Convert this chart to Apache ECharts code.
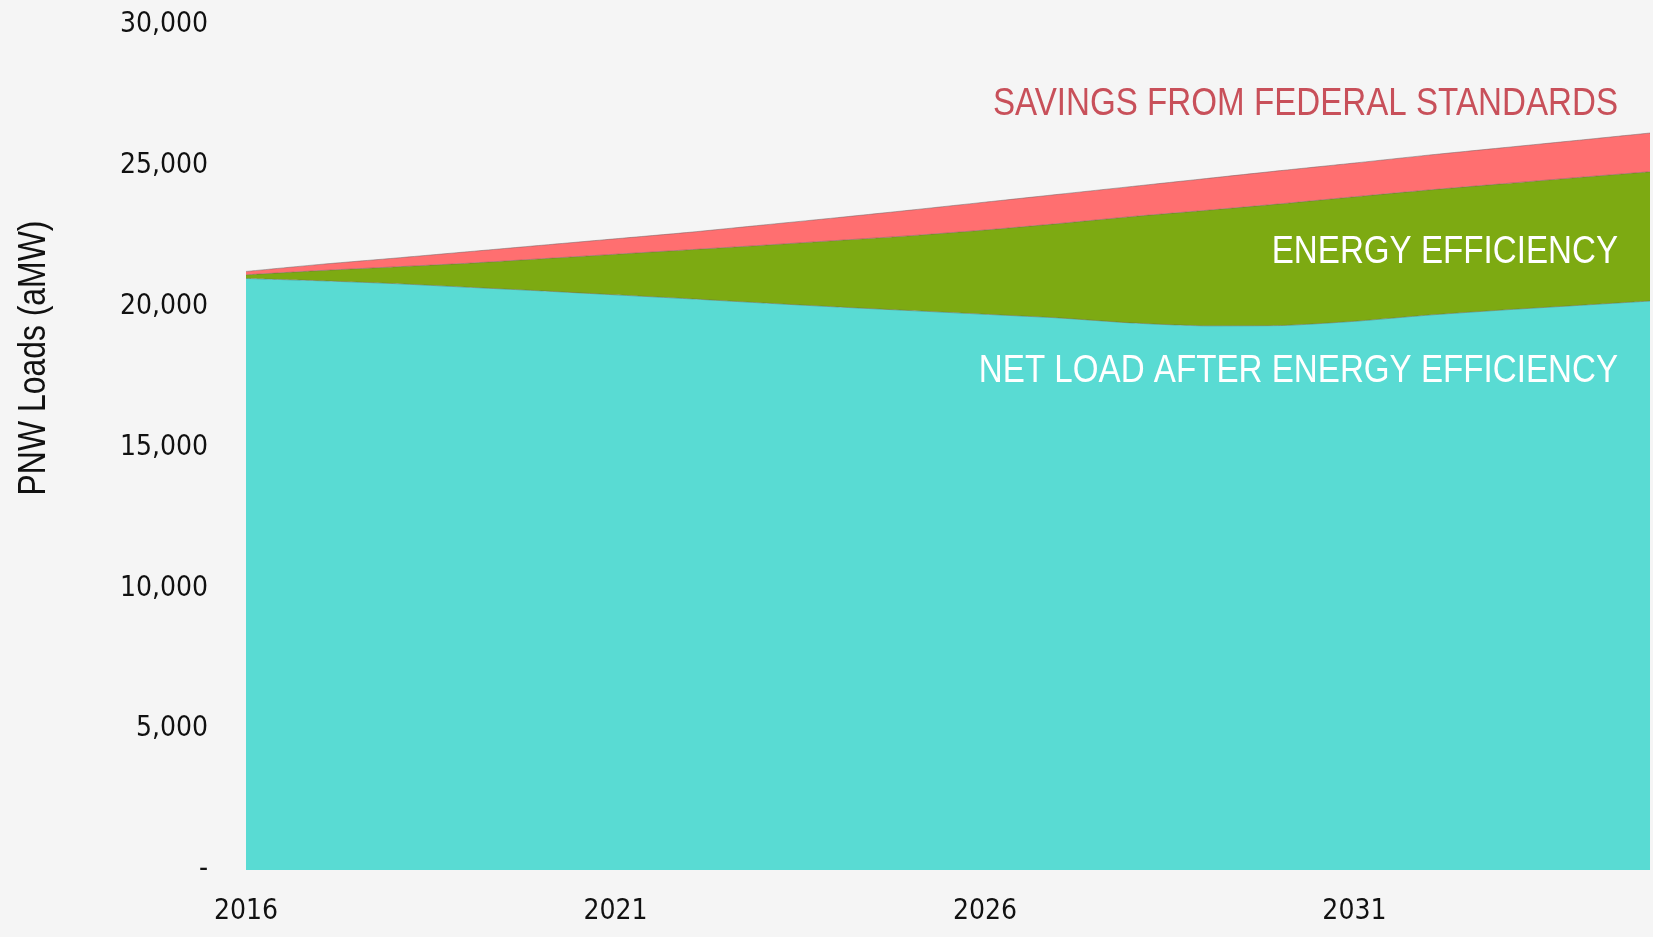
<!DOCTYPE html>
<html>
<head>
<meta charset="utf-8">
<title>PNW Loads</title>
<script src="https://cdn.jsdelivr.net/npm/echarts@6/dist/echarts.min.js"></script>
<style>
    html, body { margin: 0; padding: 0; background: #f5f5f5; }
    #chart { width: 1653px; height: 937px; }
</style>
</head>
<body>
<div id="chart"></div>
<script>
// years on the x axis
var years = ['2016', '2017', '2018', '2019', '2020', '2021', '2022', '2023', '2024', '2025',
             '2026', '2027', '2028', '2029', '2030', '2031', '2032', '2033', '2034', '2035'];
// net load after energy efficiency (aMW)
var netLoad = [21000, 20920, 20820, 20690, 20560, 20420, 20280, 20130, 19990, 19860,
               19730, 19600, 19420, 19320, 19330, 19480, 19700, 19880, 20040, 20200];
// energy efficiency savings (aMW)
var energyEff = [130, 360, 590, 850, 1140, 1440, 1740, 2050, 2360, 2660,
                 2990, 3350, 3780, 4100, 4320, 4420, 4440, 4480, 4540, 4590];
// savings from federal standards (aMW)
var fedStandards = [120, 220, 310, 410, 480, 550, 620, 720, 810, 910,
                    990, 1040, 1070, 1130, 1180, 1200, 1240, 1280, 1320, 1375];
var seriesNames = ['NET LOAD AFTER ENERGY EFFICIENCY', 'ENERGY EFFICIENCY', 'SAVINGS FROM FEDERAL STANDARDS'];

var axisFont = 'DejaVu Sans Condensed';
// Liberation Sans squeezed horizontally stands in for the narrow font of the original
var labelFont = 'Liberation Sans';
var myChart = echarts.init(document.getElementById('chart'));

function areaSeries(name, data, color) {
    return {
        name: name,
        type: 'line',
        stack: 'total',
        data: data,
        smooth: 0.2,
        symbol: 'none',
        lineStyle: { width: 1, color: 'rgba(90, 90, 90, 0.45)' },
        areaStyle: { color: color, opacity: 1 },
        emphasis: { disabled: true },
    };
}

function seriesLabel(text, color, y) {
    return {
        type: 'text', x: 1618, y: y, z: 100, scaleX: 0.85,
        style: { text: text, fill: color, fontSize: 39, fontFamily: labelFont, textAlign: 'right', textVerticalAlign: 'middle' },
    };
}

var option = {
    backgroundColor: '#f5f5f5',
    animation: false,
    grid: { left: 246, right: 3, top: 25, bottom: 67 },
    xAxis: {
        type: 'category',
        data: years,
        boundaryGap: false,
        axisLine: { show: false },
        axisTick: { show: false },
        axisLabel: { interval: 4, margin: 28, fontSize: 28, color: '#111', fontFamily: axisFont },
        splitLine: { show: false },
    },
    yAxis: {
        type: 'value',
        min: 0,
        max: 30000,
        interval: 5000,
        axisLine: { show: false },
        axisTick: { show: false },
        splitLine: { show: false },
        axisLabel: {
            margin: 38,
            fontSize: 28,
            color: '#111',
            fontFamily: axisFont,
            padding: [6, 0, 0, 0],
            formatter: function (v) {
                return v === 0 ? '-' : v.toLocaleString('en-US');
            },
        },
    },
    series: [
        areaSeries(seriesNames[0], netLoad, '#59dbd3'),
        areaSeries(seriesNames[1], energyEff, '#7daa12'),
        areaSeries(seriesNames[2], fedStandards, '#ff6f70'),
    ],
    graphic: [
        {
            type: 'text', x: 35, y: 358, z: 100, rotation: Math.PI / 2, scaleX: 0.84,
            style: { text: 'PNW Loads (aMW)', fill: '#111', fontSize: 38, fontFamily: labelFont, textAlign: 'center', textVerticalAlign: 'middle' },
        },
        seriesLabel(seriesNames[2], '#c8505a', 104),
        seriesLabel(seriesNames[1], '#ffffff', 252),
        seriesLabel(seriesNames[0], '#ffffff', 371),
    ],
};
myChart.setOption(option);
</script>
</body>
</html>
